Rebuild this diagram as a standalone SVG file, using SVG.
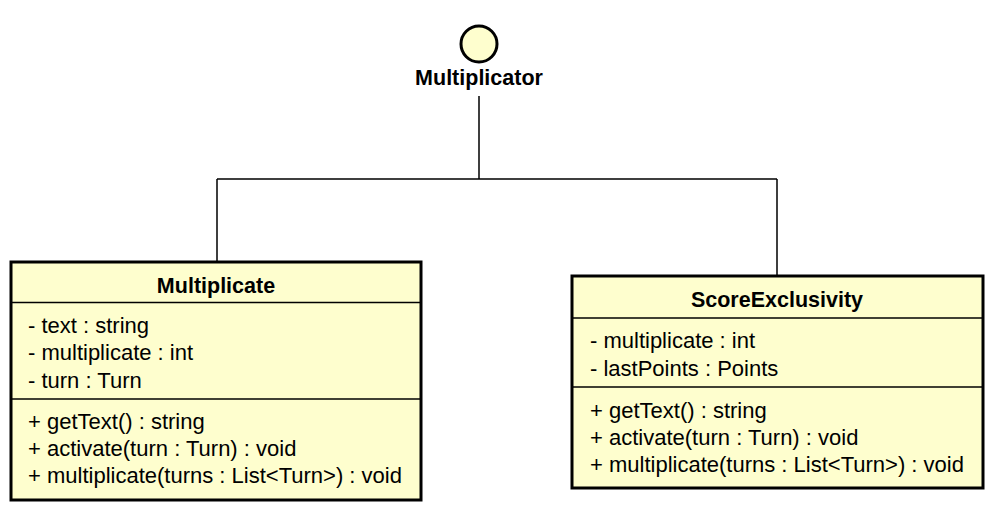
<svg xmlns="http://www.w3.org/2000/svg" width="994" height="508" viewBox="0 0 994 508">
<style>
.box{fill:#FEFECE;stroke:#000;stroke-width:3}
.sep{stroke:#000;stroke-width:1.5}
.t{font-family:"Liberation Sans",Arial,sans-serif;font-size:22px;fill:#000}
.b{font-weight:bold;text-anchor:middle;font-size:21.5px}
.conn{fill:none;stroke:#000;stroke-width:1.5}
</style>
<rect width="994" height="508" fill="#fff"/>
<g id="connectors">
<path class="conn" d="M479,96 V179 M217,179 H777 M217,179 V261 M777,179 V275"/>
</g>
<g id="Multiplicator">
<circle cx="479" cy="44" r="18" fill="#FEFECE" stroke="#000" stroke-width="3"/>
<text class="t b" x="479" y="85">Multiplicator</text>
</g>
<g id="Multiplicate">
<rect class="box" x="11" y="262" width="410" height="238"/>
<line class="sep" x1="11" y1="302.5" x2="421" y2="302.5"/>
<line class="sep" x1="11" y1="399" x2="421" y2="399"/>
<text class="t b" x="216" y="293">Multiplicate</text>
<text class="t" x="28" y="333">- text : string</text>
<text class="t" x="28" y="360">- multiplicate : int</text>
<text class="t" x="28" y="388">- turn : Turn</text>
<text class="t" x="28" y="429">+ getText() : string</text>
<text class="t" x="28" y="456">+ activate(turn : Turn) : void</text>
<text class="t" x="28" y="483">+ multiplicate(turns : List&lt;Turn&gt;) : void</text>
</g>
<g id="ScoreExclusivity">
<rect class="box" x="572" y="276" width="411" height="212"/>
<line class="sep" x1="572" y1="318" x2="983" y2="318"/>
<line class="sep" x1="572" y1="387" x2="983" y2="387"/>
<text class="t b" x="777" y="307">ScoreExclusivity</text>
<text class="t" x="590" y="348">- multiplicate : int</text>
<text class="t" x="590" y="376">- lastPoints : Points</text>
<text class="t" x="590" y="418">+ getText() : string</text>
<text class="t" x="590" y="445">+ activate(turn : Turn) : void</text>
<text class="t" x="590" y="472">+ multiplicate(turns : List&lt;Turn&gt;) : void</text>
</g>
</svg>
